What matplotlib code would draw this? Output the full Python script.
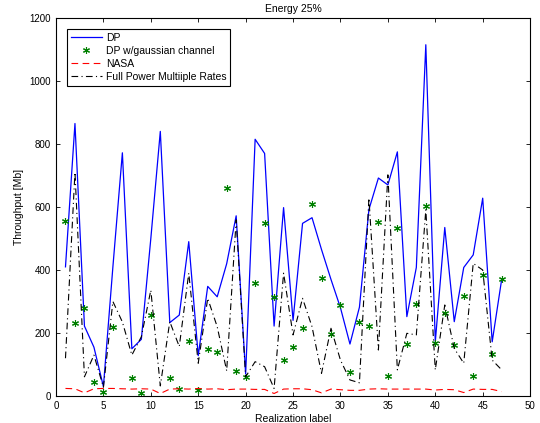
import numpy as np
import matplotlib
matplotlib.use('Agg')
import matplotlib.pyplot as plt

plt.rcParams['font.family'] = ['Liberation Sans', 'DejaVu Sans']

realization = np.arange(1, 48)

dp = [410, 865, 222, 155, 30, 410, 772, 150, 180, 500,
      840, 233, 257, 490, 128, 348, 315, 420, 572, 70,
      815, 770, 222, 598, 240, 548, 566, 465, 370, 280,
      165, 282, 592, 692, 670, 775, 252, 408, 1115, 172,
      535, 236, 408, 448, 628, 172, 370]

dp_gauss = [555, 233, 280, 43, 12, 218, np.nan, 56, 11, 258,
            np.nan, 58, 21, 176, 19, 149, 139, 660, 80, 61,
            360, 550, 313, 114, 155, 216, 608, 376, 196, 288,
            76, 236, 222, 552, 63, 532, 164, 292, 602, 167,
            262, 162, 318, 63, 385, 132, 370]

nasa = [24, 23, 10, 23, 24, 24, 23, 22, 23, 22,
        8, 22, 23, 22, 24, 22, 23, 20, 22, 22,
        21, 21, 8, 22, 23, 23, 20, 10, 22, 20,
        18, 18, 22, 23, 22, 22, 22, 22, 22, 19,
        21, 20, 11, 22, 21, 21, 14]

full_power = [120, 710, 61, 130, 28, 300, 235, 130, 188, 336,
              32, 236, 157, 390, 104, 310, 220, 80, 559, 61,
              109, 93, 24, 390, 194, 310, 220, 72, 215, 114,
              51, 42, 628, 146, 702, 83, 199, 194, 591, 83,
              289, 151, 104, 421, 400, 114, 83]

fig = plt.figure(figsize=(5.4, 4.23), dpi=100)
ax = fig.add_axes([0.1037, 0.0638, 0.878, 0.8937])

ax.plot(realization, dp, color='#0000ff', lw=0.9, label='DP')
ax.plot(realization, dp_gauss, ls='none', marker=(6, 2, 0), ms=5, mew=0.8,
        color='#008000', label='DP w/gaussian channel')
ax.plot(realization, nasa, color='#ff0000', ls=(0, (6, 4)), lw=0.8, label='NASA')
ax.plot(realization, full_power, color='black', ls=(0, (6, 3, 1, 3)), lw=0.8,
        label='Full Power Multiiple Rates')

ax.set_xlim(0, 50)
ax.set_ylim(0, 1200)
ax.set_xticks(range(0, 51, 5))
ax.set_yticks(range(0, 1201, 200))
ax.tick_params(direction='in', top=True, right=True, labelsize=7, length=3, width=0.6)
for s in ax.spines.values():
    s.set_linewidth(0.8)

ax.set_xlabel('Realization label', fontsize=7.5, labelpad=2)
ax.set_ylabel('Throughput [Mb]', fontsize=7.5, labelpad=4)
ax.set_title('Energy 25%', fontsize=7.5, pad=4)

leg = ax.legend(loc='upper left', fontsize=7.5, fancybox=False, framealpha=1,
                edgecolor='black', borderaxespad=1.05, handlelength=3.0,
                labelspacing=0.3, borderpad=0.35, handletextpad=0.4)
leg.get_frame().set_linewidth(0.8)

fig.savefig('out.png', dpi=100)
